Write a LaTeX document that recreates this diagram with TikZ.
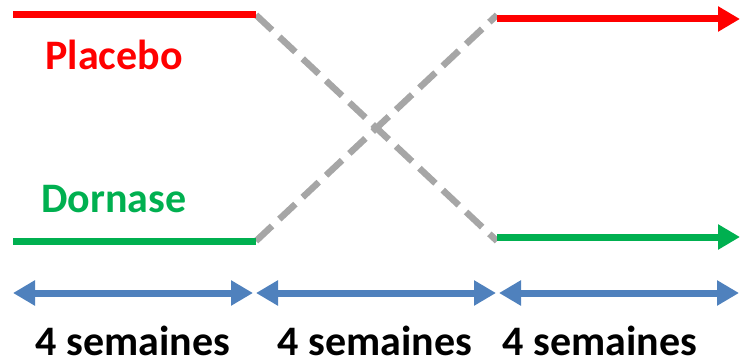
\documentclass[tikz,border=0pt]{standalone}
\usepackage{fontspec}
\setmainfont{Carlito}
\usetikzlibrary{arrows.meta}
\definecolor{pred}{HTML}{FF0000}
\definecolor{pgreen}{HTML}{00B050}
\definecolor{pgray}{HTML}{A6A6A6}
\definecolor{pblue}{HTML}{4F81BD}
\tikzset{
  x=1pt, y=-1pt,
  armline/.style={line width=7pt},
  crossline/.style={line width=6.5pt, draw=pgray, dash pattern=on 22pt off 10pt},
  endarrow/.style={line width=7pt, -{Triangle[length=22pt,width=24pt]}},
  spanarrow/.style={line width=7pt, draw=pblue, {Triangle[length=22pt,width=24pt]}-{Triangle[length=22pt,width=24pt]}},
  lbl/.style={font=\fontsize{42}{50}\selectfont\bfseries, inner sep=0pt, anchor=base},
}
\begin{document}
\begin{tikzpicture}
\useasboundingbox (0,0) rectangle (740,361);
% coordinates
\coordinate (r0) at (13,15);
\coordinate (r1) at (256,15);
\coordinate (g0) at (13,241);
\coordinate (g1) at (256,241);
\coordinate (r2) at (497,19);
\coordinate (r3) at (740,19);
\coordinate (g2) at (497,237);
\coordinate (g3) at (740,237);
\coordinate (c1) at (256,241);
\coordinate (c2) at (497,15);
\coordinate (c3) at (256,15);
\coordinate (c4) at (497,241);
\coordinate (b0) at (13,293);
\coordinate (b1) at (253,293);
\coordinate (b2) at (256,293);
\coordinate (b3) at (496,293);
\coordinate (b4) at (499,293);
\coordinate (b5) at (739,293);
% dashed crossing
\draw[crossline] (c3) -- (c4);
\draw[crossline] (c1) -- (c2);
% arms
\draw[armline, draw=pred] (r0) -- (r1);
\draw[armline, draw=pgreen] (g0) -- (g1);
\draw[endarrow, draw=pred, fill=pred] (r2) -- (r3);
\draw[endarrow, draw=pgreen, fill=pgreen] (g2) -- (g3);
% spans
\draw[spanarrow, fill=pblue] (b0) -- (b1);
\draw[spanarrow, fill=pblue] (b2) -- (b3);
\draw[spanarrow, fill=pblue] (b4) -- (b5);
% labels
\node[lbl, text=pred] (placebo) at (114,70) {Placebo};
\node[lbl, text=pgreen] (dornase) at (114,212) {Dornase};
\node[lbl, text depth=0pt] (s1) at (133,355) {4 semaines};
\node[lbl, text depth=0pt] (s2) at (375,355) {4 semaines};
\node[lbl, text depth=0pt] (s3) at (600,355) {4 semaines};
\end{tikzpicture}
\end{document}
